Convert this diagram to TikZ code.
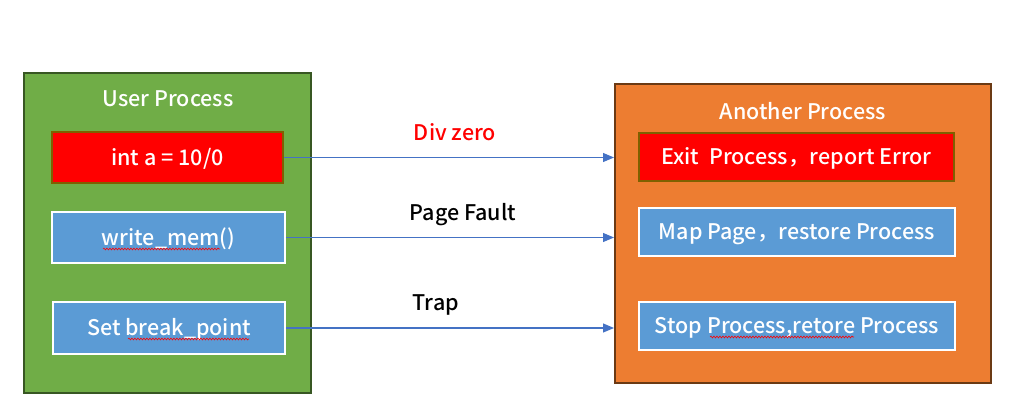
\documentclass[tikz,border=0pt]{standalone}
\usepackage{fontspec}
\setmainfont{Noto Sans CJK SC Medium}
\usetikzlibrary{arrows.meta,decorations.pathmorphing}
\definecolor{grn}{HTML}{70AD47}
\definecolor{grnb}{HTML}{385723}
\definecolor{org}{HTML}{ED7D31}
\definecolor{orgb}{HTML}{6B3A14}
\definecolor{redb}{HTML}{7F6000}
\definecolor{blu}{HTML}{5B9BD5}
\definecolor{arr}{HTML}{4472C4}
\tikzset{
  txt/.style={font=\fontsize{21.5}{24}\selectfont, text height=20pt, text depth=5pt},
  container/.style={draw, line width=2pt, inner sep=0pt},
  title/.style={txt, text=white},
  redbox/.style={txt, draw=redb, fill=red, line width=2pt, text=white, inner sep=0pt},
  bluebox/.style={txt, draw=white, fill=blu, line width=2.5pt, text=white, inner sep=0pt},
  flow/.style={draw=arr, line width=1.1pt, -{Triangle[length=11pt,width=9pt]}},
  lbl/.style={txt},
  squig/.style={draw=red, line width=0.6pt, decorate, decoration={snake, amplitude=0.9pt, segment length=3pt}}
}
\begin{document}
\begin{tikzpicture}[x=1pt,y=-1pt]
\useasboundingbox[fill=white] (0,0) rectangle (1033,412);
% containers
\node[container, fill=grn, draw=grnb, minimum width=287pt, minimum height=320pt] (user) at (167.5,233) {};
\node[container, fill=org, draw=orgb, minimum width=376pt, minimum height=299pt] (other) at (803,233.5) {};
\node[title] (usert) at (168,99) {User Process};
\node[title] (othert) at (803,112) {Another Process};
% left boxes
\node[redbox, minimum width=231pt, minimum height=51pt] (div) at (167.5,157.5) {int a = 10/0};
\node[bluebox, minimum width=233pt, minimum height=51pt] (wm) at (168.5,237.5) {write\_mem()};
\node[bluebox, minimum width=232pt, minimum height=52pt] (bp) at (169,328) {Set break\_point};
% right boxes
\node[redbox, minimum width=315pt, minimum height=48pt] (exit) at (796.5,157) {Exit\ \ Process，report Error};
\node[bluebox, minimum width=316pt, minimum height=48pt] (map) at (797,232) {Map Page，restore Process};
\node[bluebox, minimum width=316pt, minimum height=48pt] (stop) at (797,326) {Stop Process,retore Process};
% arrows
\draw[flow] (div.east) -- (div.east -| other.west);
\draw[flow] (wm.east) -- (wm.east -| other.west);
\draw[flow] (bp.east) -- (bp.east -| other.west);
% labels
\node[lbl, text=red] (l1) at (455,133) {Div zero};
\node[lbl] (l2) at (463,213) {Page Fault};
\node[lbl] (l3) at (436,303) {Trap};
% spell-check squiggles
\draw[squig] (103,249) -- (220,249);
\draw[squig] (128,339) -- (249,339);
\draw[squig] (710,337) -- (854,337);
\end{tikzpicture}
\end{document}
